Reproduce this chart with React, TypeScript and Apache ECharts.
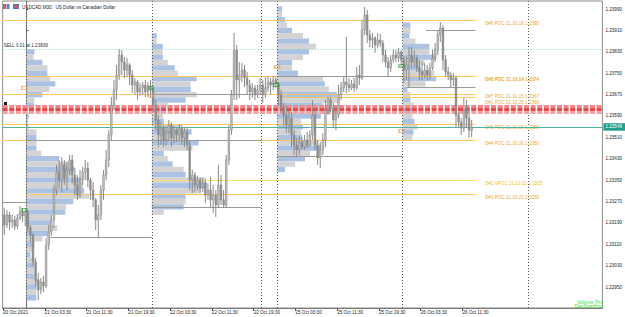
import React, { useEffect, useRef } from "react";
import * as echarts from "echarts";

// ---------- DATA ----------
// M30 bars, index 0 = 21 Oct 00:00; first bar index = -9 (20 Oct 19:30)
const FIRST_BAR = -9;
const OPEN = [
  1.23220, 1.23182, 1.23220, 1.23193, 1.23201, 1.23178, 1.23208, 1.23231, 1.23216,
  1.23231, 1.23171, 1.23145, 1.23044, 1.22976, 1.22939, 1.22969, 1.22954, 1.23107, 1.23156,
  1.23201, 1.23313, 1.23380, 1.23350, 1.23407, 1.23358, 1.23388, 1.23425, 1.23369, 1.23332,
  1.23294, 1.23350, 1.23380, 1.23395, 1.23350, 1.23313, 1.23276, 1.23201, 1.23220, 1.23313,
  1.23369, 1.23425, 1.23519, 1.23631, 1.23687, 1.23743, 1.23818, 1.23792, 1.23762, 1.23781,
  1.23743, 1.23706, 1.23717, 1.23680, 1.23695, 1.23706, 1.23680, 1.23702,
  1.23687, 1.23631, 1.23575, 1.23519, 1.23545, 1.23500, 1.23530, 1.23556, 1.23508, 1.23537,
  1.23519, 1.23545, 1.23508, 1.23530, 1.23481, 1.23350, 1.23369, 1.23332, 1.23350, 1.23320,
  1.23339, 1.23294, 1.23313, 1.23276, 1.23294, 1.23257, 1.23332, 1.23276, 1.23257, 1.23425,
  1.23537, 1.23669, 1.23837, 1.23725, 1.23743, 1.23762, 1.23732, 1.23706, 1.23680, 1.23695,
  1.23669, 1.23687, 1.23706, 1.23669, 1.23695, 1.23717, 1.23706, 1.23725,
  1.23710, 1.23669, 1.23620, 1.23594, 1.23556, 1.23582, 1.23519, 1.23481, 1.23463, 1.23493,
  1.23474, 1.23500, 1.23481, 1.23519, 1.23594, 1.23481, 1.23433, 1.23463, 1.23500, 1.23612,
  1.23650, 1.23620, 1.23575, 1.23594, 1.23669, 1.23695, 1.23717, 1.23706, 1.23695, 1.23710,
  1.23695, 1.23743, 1.23732, 1.23912, 1.23968, 1.23893, 1.23874, 1.23882, 1.23856, 1.23874,
  1.23863, 1.23818, 1.23792, 1.23770, 1.23800, 1.23818, 1.23807, 1.23829,
  1.23800, 1.23762, 1.23781, 1.23818, 1.23792, 1.23807, 1.23770, 1.23755, 1.23743, 1.23762,
  1.23743, 1.23770, 1.23807, 1.23837, 1.23893, 1.23919, 1.23800, 1.23755, 1.23743, 1.23725,
  1.23732, 1.23594, 1.23567, 1.23545, 1.23612, 1.23582, 1.23537,
];
const CLOSE = [
  1.23182, 1.23220, 1.23193, 1.23201, 1.23178, 1.23208, 1.23231, 1.23216, 1.23231,
  1.23171, 1.23145, 1.23044, 1.22976, 1.22939, 1.22969, 1.22954, 1.23107, 1.23156, 1.23201,
  1.23313, 1.23380, 1.23350, 1.23407, 1.23358, 1.23388, 1.23425, 1.23369, 1.23332, 1.23294,
  1.23350, 1.23380, 1.23395, 1.23350, 1.23313, 1.23276, 1.23201, 1.23220, 1.23313, 1.23369,
  1.23425, 1.23519, 1.23631, 1.23687, 1.23743, 1.23818, 1.23792, 1.23762, 1.23781, 1.23743,
  1.23706, 1.23717, 1.23680, 1.23695, 1.23706, 1.23680, 1.23702, 1.23687,
  1.23631, 1.23575, 1.23519, 1.23545, 1.23500, 1.23530, 1.23556, 1.23508, 1.23537, 1.23519,
  1.23545, 1.23508, 1.23530, 1.23481, 1.23350, 1.23369, 1.23332, 1.23350, 1.23320, 1.23339,
  1.23294, 1.23313, 1.23276, 1.23294, 1.23257, 1.23332, 1.23276, 1.23257, 1.23425, 1.23537,
  1.23669, 1.23837, 1.23725, 1.23743, 1.23762, 1.23732, 1.23706, 1.23680, 1.23695, 1.23669,
  1.23687, 1.23706, 1.23669, 1.23695, 1.23717, 1.23706, 1.23725, 1.23710,
  1.23669, 1.23620, 1.23594, 1.23556, 1.23582, 1.23519, 1.23481, 1.23463, 1.23493, 1.23474,
  1.23500, 1.23481, 1.23519, 1.23594, 1.23481, 1.23433, 1.23463, 1.23500, 1.23612, 1.23650,
  1.23620, 1.23575, 1.23594, 1.23669, 1.23695, 1.23717, 1.23706, 1.23695, 1.23710, 1.23695,
  1.23743, 1.23732, 1.23912, 1.23968, 1.23893, 1.23874, 1.23882, 1.23856, 1.23874, 1.23863,
  1.23818, 1.23792, 1.23770, 1.23800, 1.23818, 1.23807, 1.23829, 1.23800,
  1.23762, 1.23781, 1.23818, 1.23792, 1.23807, 1.23770, 1.23755, 1.23743, 1.23762, 1.23743,
  1.23770, 1.23807, 1.23837, 1.23893, 1.23919, 1.23800, 1.23755, 1.23743, 1.23725, 1.23732,
  1.23594, 1.23567, 1.23545, 1.23612, 1.23582, 1.23537, 1.23549,
];
const HIGH = [
  1.23246, 1.23238, 1.23231, 1.23220, 1.23216, 1.23223, 1.23253, 1.23246, 1.23246,
  1.23238, 1.23182, 1.23152, 1.23059, 1.23002, 1.22984, 1.22991, 1.23133, 1.23182, 1.23220,
  1.23332, 1.23407, 1.23425, 1.23436, 1.23425, 1.23418, 1.23444, 1.23444, 1.23395, 1.23369,
  1.23388, 1.23399, 1.23425, 1.23418, 1.23358, 1.23343, 1.23283, 1.23257, 1.23332, 1.23388,
  1.23463, 1.23537, 1.23661, 1.23725, 1.23781, 1.23841, 1.23837, 1.23811, 1.23807, 1.23788,
  1.23762, 1.23732, 1.23725, 1.23713, 1.23717, 1.23725, 1.23717, 1.23725,
  1.23695, 1.23650, 1.23594, 1.23567, 1.23556, 1.23552, 1.23575, 1.23567, 1.23552, 1.23545,
  1.23560, 1.23556, 1.23549, 1.23545, 1.23500, 1.23388, 1.23380, 1.23365, 1.23362, 1.23358,
  1.23350, 1.23339, 1.23362, 1.23332, 1.23313, 1.23407, 1.23369, 1.23313, 1.23444, 1.23556,
  1.23687, 1.23901, 1.23856, 1.23792, 1.23788, 1.23781, 1.23755, 1.23725, 1.23713, 1.23706,
  1.23706, 1.23732, 1.23725, 1.23736, 1.23740, 1.23732, 1.23740, 1.23736,
  1.23717, 1.23687, 1.23639, 1.23631, 1.23612, 1.23605, 1.23537, 1.23508, 1.23515, 1.23511,
  1.23519, 1.23530, 1.23537, 1.23650, 1.23612, 1.23500, 1.23493, 1.23526, 1.23650, 1.23661,
  1.23661, 1.23639, 1.23631, 1.23706, 1.23717, 1.23736, 1.23886, 1.23732, 1.23725, 1.23732,
  1.23773, 1.23781, 1.23949, 1.23998, 1.23987, 1.23912, 1.23901, 1.23889, 1.23901, 1.23897,
  1.23874, 1.23837, 1.23811, 1.23818, 1.23837, 1.23837, 1.23844, 1.23837,
  1.23814, 1.23811, 1.23848, 1.23848, 1.23837, 1.23818, 1.23800, 1.23792, 1.23788, 1.23781,
  1.23788, 1.23837, 1.23863, 1.23912, 1.23942, 1.23930, 1.23818, 1.23773, 1.23755, 1.23751,
  1.23740, 1.23605, 1.23582, 1.23657, 1.23650, 1.23620, 1.23575,
];
const LOW = [
  1.23145, 1.23171, 1.23163, 1.23171, 1.23163, 1.23167, 1.23201, 1.23193, 1.23178,
  1.23156, 1.23118, 1.23029, 1.22950, 1.22901, 1.22924, 1.22931, 1.22946, 1.23089, 1.23141,
  1.23171, 1.23294, 1.23320, 1.23305, 1.23332, 1.23313, 1.23369, 1.23339, 1.23294, 1.23276,
  1.23283, 1.23332, 1.23350, 1.23324, 1.23276, 1.23249, 1.23163, 1.23133, 1.23201, 1.23276,
  1.23350, 1.23399, 1.23500, 1.23612, 1.23650, 1.23725, 1.23743, 1.23732, 1.23736, 1.23706,
  1.23676, 1.23669, 1.23650, 1.23665, 1.23669, 1.23661, 1.23665, 1.23661,
  1.23605, 1.23537, 1.23474, 1.23481, 1.23474, 1.23478, 1.23500, 1.23474, 1.23489, 1.23493,
  1.23500, 1.23481, 1.23474, 1.23463, 1.23313, 1.23302, 1.23305, 1.23313, 1.23302, 1.23305,
  1.23264, 1.23276, 1.23249, 1.23227, 1.23212, 1.23246, 1.23257, 1.23246, 1.23249, 1.23407,
  1.23519, 1.23650, 1.23650, 1.23657, 1.23717, 1.23698, 1.23669, 1.23650, 1.23657, 1.23650,
  1.23657, 1.23669, 1.23639, 1.23657, 1.23680, 1.23669, 1.23687, 1.23695,
  1.23631, 1.23601, 1.23556, 1.23526, 1.23526, 1.23474, 1.23444, 1.23436, 1.23444, 1.23463,
  1.23463, 1.23470, 1.23474, 1.23500, 1.23463, 1.23407, 1.23395, 1.23444, 1.23474, 1.23594,
  1.23605, 1.23545, 1.23537, 1.23582, 1.23650, 1.23680, 1.23676, 1.23680, 1.23687, 1.23680,
  1.23687, 1.23706, 1.23725, 1.23893, 1.23863, 1.23848, 1.23844, 1.23826, 1.23844, 1.23848,
  1.23792, 1.23773, 1.23736, 1.23755, 1.23788, 1.23792, 1.23792, 1.23773,
  1.23713, 1.23725, 1.23698, 1.23770, 1.23773, 1.23755, 1.23725, 1.23725, 1.23732, 1.23725,
  1.23725, 1.23762, 1.23792, 1.23818, 1.23867, 1.23762, 1.23736, 1.23725, 1.23698, 1.23702,
  1.23549, 1.23549, 1.23519, 1.23530, 1.23545, 1.23508, 1.23511,
];

// time axis ticks (bar index) and labels
const TICK_BARS = [-9, 7, 23, 39, 55, 71, 87, 103, 119, 135, 151, 167];
const TICK_LABELS = [
  "20 Oct 2021", "21 Oct 03:30", "21 Oct 11:30", "21 Oct 19:30", "22 Oct 03:30", "22 Oct 11:30",
  "22 Oct 19:30", "25 Oct 03:30", "25 Oct 11:30", "25 Oct 19:30", "26 Oct 03:30", "26 Oct 11:30",
];
const PRICE_TICKS = [1.2295, 1.2303, 1.2311, 1.2319, 1.2327, 1.2335, 1.2343, 1.2351, 1.2359, 1.2367, 1.2375, 1.2383, 1.2391, 1.2399];
const SEPARATORS = [0, 48, 90, 96, 144, 192];

// daily volume profiles
const PROFILE_BIN = 0.0002;
const PROFILE_STARTS = [0, 48, 96, 144];
const PROFILE_TOPS = [1.2384, 1.239, 1.24, 1.2394];
const VOL_21OCT = [8, 7, 16, 21, 21, 24, 29, 23, 16, 8, 7, 2, 2, 2, 2, 10, 10, 10, 10, 15, 33, 47, 48, 47, 55, 57, 58, 63, 47, 40, 39, 25, 25, 31, 23, 16, 8, 7, 4, 8, 8, 8, 8, 13, 10, 10, 10];
const VOL_22OCT = [5, 5, 11, 11, 11, 16, 23, 26, 45, 39, 39, 45, 34, 16, 9, 11, 12, 29, 40, 36, 47, 41, 12, 16, 21, 32, 34, 55, 55, 49, 34, 34, 32, 12];
const VOL_25OCT = [5, 5, 8, 10, 15, 26, 32, 39, 32, 26, 15, 15, 21, 46, 48, 52, 60, 63, 46, 48, 44, 24, 26, 24, 25, 41, 44, 33, 28, 18, 8];
const VOL_26OCT = [8, 8, 7, 13, 27, 27, 34, 22, 18, 32, 34, 23, 5, 8, 8, 11, 11, 10, 12, 15, 11, 10];

// untested POC levels
const POC_LEVELS = [1.23951, 1.2374, 1.23671, 1.2366, 1.23559, 1.235, 1.23349, 1.23297];
const POC_FROM = [-10, -10, -10, 96, -10, -10, 48, 0];
const POC_TEXTS = [
  "D#6 POC 21.10.18 1.2395",
  "D#8 POC 21.10.14 1.2374",
  "D#7 POC 21.10.15 1.2367",
  "D#1 POC 21.10.25 1.2366",
  "D#5 POC 21.10.19 1.2356",
  "D#4 POC 21.10.20 1.2350",
  "D#2 VPOC 21.10.22 1.2335",
  "D#3 POC 21.10.21 1.2330",
];
const POC_LABEL_SHIFT = [3.6, 3.6, 2.2, 5.4, 3.6, 3.6, 3.6, 3.6];
const POC_TO = 172;

// value-area style grey levels
const GREY_LEVELS = [1.23269, 1.235, 1.23138, 1.23671, 1.23248, 1.23738, 1.2344, 1.23911, 1.23699];
const GREY_FROM = [-10, 0, 8, 48, 48, 96, 96, 153, 145.5];
const GREY_TO = [0, 90, 48, 90, 90, 144, 144, 172, 172];

const RED_LEVELS = [1.23625, 1.23614, 1.23603];
const BID = 1.23549;
const SELL_PRICE = 1.23839;
const SELL_TEXT = "SELL 0.01 at 1.23839";

const MARKERS_ORANGE = [[-0.8, 1.23695], [47.6, 1.23665], [96, 1.23773], [143.6, 1.23534]];
const MARKERS_GREEN = [[-0.8, 1.23238], [47.6, 1.23695], [95.6, 1.23706], [143.6, 1.23777]];

// ---------- CHART ----------
const XMIN = -9.1429;
const XMAX = 220.571;
const YMIN = 1.228715;
const YMAX = 1.240203;
const FONT = "Liberation Sans";
const FS = 4.6;
const VOL_SCALE = 1 / 2.625;

function buildOption() {
  const candles = OPEN.map((o, k) => [FIRST_BAR + k + 0.5, o, CLOSE[k], LOW[k], HIGH[k]]);
  const vols = [VOL_21OCT, VOL_22OCT, VOL_25OCT, VOL_26OCT];
  const profileRows: number[][] = [];
  vols.forEach((arr, p) => {
    arr.forEach((v, k) => {
      const top = PROFILE_TOPS[p] - k * PROFILE_BIN;
      profileRows.push([PROFILE_STARTS[p], top, top - PROFILE_BIN, v, k % 2]);
    });
  });
  const pocRows = POC_LEVELS.map((p, k) => [POC_FROM[k], POC_TO, p, POC_TEXTS[k].indexOf("VPOC") >= 0 ? 1 : 0]);
  const greyRows = GREY_LEVELS.map((p, k) => [GREY_FROM[k], GREY_TO[k], p]);

  const segRender = (stroke: string | ((v: number) => string), width = 1) => (params: any, api: any) => {
    const a = api.coord([api.value(0), api.value(2)]);
    const b = api.coord([api.value(1), api.value(2)]);
    const col = typeof stroke === "function" ? stroke(api.value(3)) : stroke;
    return {
      type: "line",
      shape: { x1: a[0], y1: Math.round(a[1]) + 0.5, x2: b[0], y2: Math.round(b[1]) + 0.5 },
      style: { stroke: col, lineWidth: width },
    };
  };

  return {
    animation: false,
    backgroundColor: "#ffffff",
    textStyle: { fontFamily: FONT },
    grid: { left: 1, right: 21, top: 1, bottom: 9, show: true, borderColor: "#8c8c8c", borderWidth: 1 },
    xAxis: {
      type: "value",
      min: XMIN,
      max: XMAX,
      splitLine: { show: false },
      axisLine: { show: true, lineStyle: { color: "#7a7a7a" } },
      axisTick: { show: true, customValues: TICK_BARS, length: 3, lineStyle: { color: "#555" } },
      axisLabel: {
        customValues: TICK_BARS,
        formatter: (v: number) => {
          const k = TICK_BARS.indexOf(Math.round(v));
          return k >= 0 ? TICK_LABELS[k] : "";
        },
        align: "left",
        margin: 2,
        fontSize: FS,
        color: "#222",
        fontFamily: FONT,
      },
    },
    yAxis: {
      type: "value",
      position: "right",
      min: YMIN,
      max: YMAX,
      splitLine: { show: false },
      axisLine: { show: true, lineStyle: { color: "#7a7a7a" } },
      axisTick: { show: true, customValues: PRICE_TICKS, length: 2, lineStyle: { color: "#555" } },
      axisLabel: {
        customValues: PRICE_TICKS,
        formatter: (v: number) => v.toFixed(5),
        margin: 3,
        fontSize: FS,
        color: "#222",
        fontFamily: FONT,
      },
    },
    series: [
      {
        name: "profiles",
        type: "custom",
        clip: true,
        z: 1,
        data: profileRows,
        renderItem: (params: any, api: any) => {
          const s = api.value(0);
          const p1 = api.coord([s, api.value(1)]);
          const p2 = api.coord([s + api.value(3) * VOL_SCALE, api.value(2)]);
          return {
            type: "rect",
            shape: { x: p1[0], y: p1[1], width: p2[0] - p1[0], height: p2[1] - p1[1] },
            style: { fill: api.value(4) ? "#d3d3d3" : "#abc2e3" },
          };
        },
      },
      {
        name: "poc",
        type: "custom",
        clip: true,
        z: 2,
        data: pocRows,
        renderItem: segRender((k: number) => (k ? "#ffe060" : "#ffc65c")),
      },
      {
        name: "grey",
        type: "custom",
        clip: true,
        z: 3,
        data: greyRows,
        renderItem: segRender("#9a9a9a"),
      },
      {
        name: "pocLabels",
        type: "custom",
        z: 4,
        data: POC_LEVELS.map((p) => [175.6, p]),
        renderItem: (params: any, api: any) => {
          const c = api.coord([api.value(0), api.value(1)]);
          const k = params.dataIndex;
          const t = POC_TEXTS[k];
          return {
            type: "text",
            x: c[0],
            y: c[1] + POC_LABEL_SHIFT[k],
            style: {
              text: t,
              fill: t.indexOf("VPOC") >= 0 ? "#f4c020" : "#f0a832",
              fontSize: FS,
              fontWeight: k === 1 ? "bold" : "normal",
              fontFamily: FONT,
              align: "left",
              verticalAlign: "middle",
            },
          };
        },
      },
      {
        name: "candles",
        type: "custom",
        clip: true,
        z: 6,
        data: candles,
        renderItem: (params: any, api: any) => {
          const x = api.value(0);
          const o = api.value(1);
          const c = api.value(2);
          const pO = api.coord([x, o]);
          const pC = api.coord([x, c]);
          const pL = api.coord([x, api.value(3)]);
          const pH = api.coord([x, api.value(4)]);
          const w = api.size([1, 0])[0] * 0.62;
          const top = Math.min(pO[1], pC[1]);
          const h = Math.max(Math.abs(pO[1] - pC[1]), 1);
          const bull = c >= o;
          return {
            type: "group",
            children: [
              { type: "line", shape: { x1: pH[0], y1: pH[1], x2: pL[0], y2: pL[1] }, style: { stroke: "#8a8a8a", lineWidth: 1 } },
              {
                type: "rect",
                shape: { x: pO[0] - w / 2, y: top, width: w, height: h },
                style: { fill: bull ? "#c6c6c6" : "#8e8e8e", stroke: "#8a8a8a", lineWidth: 0.6 },
              },
            ],
          };
        },
        markLine: {
          silent: true,
          precision: 6,
          symbol: ["none", "none"],
          data: SEPARATORS.map((b) => ({ xAxis: b, lineStyle: { color: "#5a5a5a", type: [1, 2], width: 1 }, label: { show: false } })),
        },
      },
      {
        name: "priceLines",
        type: "scatter",
        z: 5,
        symbolSize: 0,
        data: [[XMIN - 5, YMIN - 0.01]],
        markLine: {
          silent: true,
          precision: 6,
          symbol: ["none", "none"],
          data: [
            ...RED_LEVELS.map((p, k) => ({
              yAxis: p,
              lineStyle: { color: ["#f08a8a", "#e84848", "#f3a3a3"][k], type: [5, 1.6], width: 3 },
              label: { show: false },
            })),
            {
              yAxis: SELL_PRICE,
              lineStyle: { color: "#8fd0c2", type: [1, 2], width: 1 },
              label: {
                show: true,
                position: "insideStartTop",
                formatter: SELL_TEXT,
                fontSize: FS,
                color: "#333",
                fontFamily: FONT,
                distance: [1, 1],
              },
            },
            {
              yAxis: BID,
              lineStyle: { color: "#4fb3a3", type: "solid", width: 1 },
              label: {
                show: true,
                position: "end",
                formatter: BID.toFixed(5),
                fontSize: FS,
                color: "#ffffff",
                backgroundColor: "#23a08c",
                padding: [1.5, 3, 1, 2],
                distance: 1,
                fontFamily: FONT,
              },
            },
          ],
        },
      },
      {
        name: "markersOrange",
        type: "scatter",
        z: 7,
        symbol: "rect",
        symbolSize: [5, 3],
        itemStyle: { color: "rgba(0,0,0,0)", borderColor: "#e69a4c", borderWidth: 1 },
        data: MARKERS_ORANGE,
      },
      {
        name: "markersGreen",
        type: "scatter",
        z: 7,
        symbol: "rect",
        symbolSize: [5, 3],
        itemStyle: { color: "rgba(0,0,0,0)", borderColor: "#3a9a3a", borderWidth: 1 },
        data: MARKERS_GREEN,
      },
    ],
    graphic: [
      { type: "rect", left: 3, top: 4, shape: { width: 3, height: 5 }, style: { fill: "#e05858" } },
      { type: "rect", left: 6.5, top: 4, shape: { width: 3, height: 5 }, style: { fill: "#5b7fd0" } },
      { type: "rect", left: 13, top: 4, shape: { width: 6, height: 5 }, style: { fill: "#4a78c8" } },
      { type: "rect", left: 14.5, top: 5, shape: { width: 3, height: 3 }, style: { fill: "#e05858" } },
      {
        type: "text",
        left: 22,
        top: 4.5,
        style: { text: "USDCAD,M30:  US Dollar vs Canadian Dollar", fontSize: FS, fill: "#222", fontFamily: FONT },
      },
      { type: "rect", left: 4, top: 102, shape: { width: 3, height: 8 }, style: { fill: "#1a1a1a" } },
      {
        type: "text",
        right: 22,
        top: 299,
        style: { text: "Volume Pro", fontSize: FS + 0.4, fill: "#3adc3a", fontFamily: FONT, align: "right" },
      },
      {
        type: "text",
        right: 22,
        top: 303.5,
        style: { text: "DayStartHou", fontSize: FS + 0.4, fill: "#3adc3a", fontFamily: FONT, align: "right" },
      },
    ],
  };
}

export default function App() {
  const ref = useRef<HTMLDivElement>(null);
  useEffect(() => {
    if (!ref.current) return;
    const chart = echarts.init(ref.current, null, { renderer: "svg" });
    chart.setOption(buildOption() as any);
    return () => chart.dispose();
  }, []);
  return (
    <div
      ref={ref}
      style={{ position: "fixed", left: 0, top: 0, width: 625, height: 317, background: "#ffffff" }}
    />
  );
}
